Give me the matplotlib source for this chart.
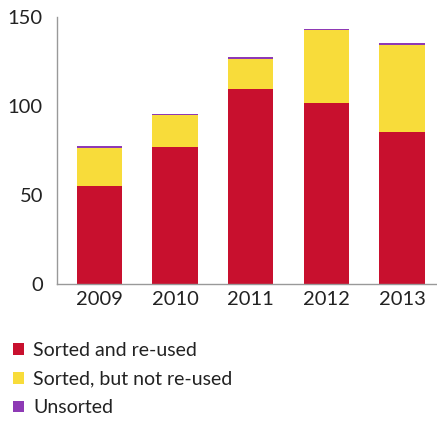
import matplotlib
matplotlib.use("Agg")
import matplotlib.pyplot as plt
from matplotlib.patches import Patch
import numpy as np

years = ["2009", "2010", "2011", "2012", "2013"]
sorted_reused = [55, 77, 109.5, 101.5, 85.5]
sorted_not_reused = [21.5, 18, 17, 41, 49]
unsorted = [0.8, 0.6, 0.8, 0.8, 0.8]

series_labels = ["Sorted and re-used", "Sorted, but not re-used", "Unsorted"]
colors = ["#C8102E", "#F8DC3A", "#8E3AB5"]
yticks = [0, 50, 100, 150]

plt.rcParams["font.family"] = ["Lato", "DejaVu Sans"]

fig = plt.figure(figsize=(4.37, 4.23), dpi=100)
ax = fig.add_axes([0.130, 0.3286, 0.870, 0.6314])

x = np.arange(len(years))
w = 0.6
bottom = np.zeros(len(years))
for vals, c in zip([sorted_reused, sorted_not_reused, unsorted], colors):
    ax.bar(x, vals, width=w, bottom=bottom, color=c, linewidth=0)
    bottom += np.array(vals)

ax.set_xlim(-0.56, 4.46)
ax.set_ylim(0, 150)
ax.set_xticks(x)
ax.set_xticklabels(years)
ax.set_yticks(yticks)
ax.tick_params(length=0, labelsize=14.5, colors="#222222", pad=5)
ax.tick_params(axis="y", pad=10)
for s in ["top", "right"]:
    ax.spines[s].set_visible(False)
for s in ["left", "bottom"]:
    ax.spines[s].set_color("#999999")
    ax.spines[s].set_linewidth(1.0)

handles = [Patch(facecolor=c, edgecolor="none") for c in colors]
fig.legend(handles, series_labels, loc="upper left", bbox_to_anchor=(0.012, 0.21),
           frameon=False, fontsize=14, handlelength=0.55, handleheight=0.55,
           handletextpad=0.5, labelspacing=0.6, borderaxespad=0, labelcolor="#222222")

fig.savefig("out.png", dpi=100)
